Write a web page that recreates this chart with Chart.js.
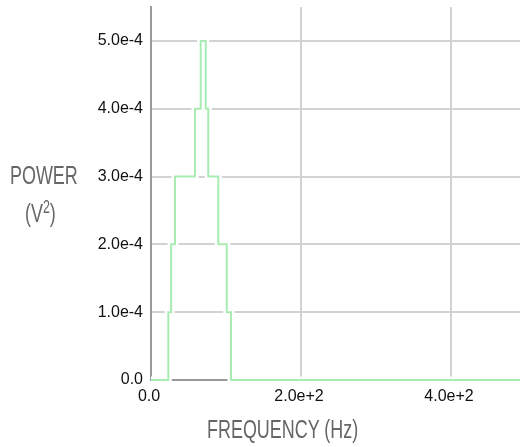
<!DOCTYPE html>
<html>
<head>
<meta charset="utf-8">
<script src="https://cdn.jsdelivr.net/npm/chart.js@4.4.1/dist/chart.umd.min.js"></script>
<style>
  html, body { margin: 0; padding: 0; background: #fff; }
  #wrap { position: relative; width: 520px; height: 447px; overflow: hidden; }
  #chart { position: absolute; left: 0; top: 0; }
  .axis-title {
    position: absolute;
    color: #666;
    font-family: "Liberation Sans", Arial, sans-serif;
    font-size: 26px;
    line-height: 26px;
    white-space: nowrap;
    transform-origin: left top;
    transform: scaleX(0.69);
  }
  .axis-title .sup { font-size: 18px; vertical-align: baseline; position: relative; top: -9px; }
</style>
</head>
<body>
<div id="wrap">
  <canvas id="chart" width="520" height="447"></canvas>
  <div class="axis-title" style="left:10px; top:162px;">POWER</div>
  <div class="axis-title" style="left:25px; top:200px;">(V<span class="sup">2</span>)</div>
  <div class="axis-title" style="left:207px; top:416px;">FREQUENCY (Hz)</div>
</div>
<script>
// spectrum: frequency where the power level changes, and the new level
const freqHz = [0, 23.1, 26.9, 32.0, 58.7, 66.3, 73.0, 76.4, 89.7, 101.0, 106.7, 492];
const powerV2 = [0, 1e-4, 2e-4, 3e-4, 4e-4, 5e-4, 4e-4, 3e-4, 2e-4, 1e-4, 0, 0];

const xTicks = [0, 200, 400];
const xTickLabels = ["0.0", "2.0e+2", "4.0e+2"];
const yTicks = [0, 1e-4, 2e-4, 3e-4, 4e-4, 5e-4];
const yTickLabels = ["0.0", "1.0e-4", "2.0e-4", "3.0e-4", "4.0e-4", "5.0e-4"];

const points = freqHz.map((f, i) => ({ x: f, y: powerV2[i] }));

const tickFont = { family: "Liberation Sans", size: 16 };

function noPad(s) {
  s.paddingTop = 0;
  s.paddingBottom = 0;
  s.paddingLeft = 0;
  s.paddingRight = 0;
}

new Chart(document.getElementById("chart"), {
  type: "scatter",
  data: {
    datasets: [
      {
        data: points,
        showLine: true,
        stepped: "before",
        borderColor: "#a9ecb3",
        borderWidth: 2,
        pointRadius: 0,
        clip: false,
      },
      {
        // white halo under the line
        data: points,
        showLine: true,
        stepped: "before",
        borderColor: "#ffffff",
        borderWidth: 7,
        pointRadius: 0,
        clip: false,
      },
    ],
  },
  options: {
    responsive: false,
    animation: false,
    events: [],
    layout: { padding: { top: 7, right: 0, left: 0, bottom: 0 } },
    plugins: { legend: { display: false }, tooltip: { enabled: false } },
    scales: {
      x: {
        type: "linear",
        min: 0,
        max: 492,
        afterBuildTicks: (s) => { s.ticks = xTicks.map((v) => ({ value: v })); },
        afterFit: (s) => { s.height = 67; noPad(s); },
        ticks: {
          callback: (v, i) => xTickLabels[i],
          font: tickFont,
          color: "#111",
          padding: 7,
          labelOffset: -2,
          maxRotation: 0,
        },
        grid: { color: "#d2d2d2", lineWidth: 2, drawTicks: false },
        border: { color: "#999", width: 2 },
      },
      y: {
        type: "linear",
        min: 0,
        max: 5.5e-4,
        afterBuildTicks: (s) => { s.ticks = yTicks.map((v) => ({ value: v })); },
        afterFit: (s) => { s.width = 151; noPad(s); },
        ticks: {
          callback: (v, i) => yTickLabels[i],
          font: tickFont,
          color: "#111",
          padding: 8,
        },
        grid: { color: "#d2d2d2", lineWidth: 2, drawTicks: false },
        border: { color: "#999", width: 2 },
      },
    },
  },
});
</script>
</body>
</html>
